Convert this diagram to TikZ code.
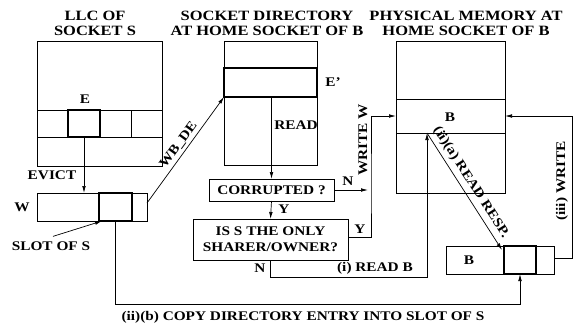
\documentclass[tikz,border=0pt]{standalone}
\usepackage{fontspec}
\newfontfamily\figfont[FakeStretch=1.16,Ligatures=TeX]{Liberation Serif}
\usepackage{tikz}
\usetikzlibrary{arrows.meta,positioning,calc}
\tikzset{
  lbl/.style={font=\figfont\bfseries\fontsize{13.2}{15}\selectfont,inner sep=1pt,align=center},
  headlbl/.style={lbl,font=\figfont\bfseries\fontsize{14.2}{15}\selectfont},
  plainbox/.style={draw,line width=0.8pt,inner sep=0pt,outer sep=0pt},
  hotbox/.style={draw,line width=2.3pt,inner sep=0pt,outer sep=0pt},
  askbox/.style={plainbox,line width=1pt,font=\figfont\bfseries\fontsize{13.2}{16}\selectfont,align=center},
  wire/.style={line width=0.8pt},
  link/.style={line width=0.7pt,-{Latex[length=7pt,width=3.6pt]}}
}

\begin{document}
\begin{tikzpicture}[x=1pt,y=-1pt]
\useasboundingbox (0,0) rectangle (573,325);
% titles
\node[headlbl] (llctitle) at (95,23) {LLC OF\\SOCKET S};
\node[headlbl] (dirtitle) at (267,23) {SOCKET DIRECTORY\\AT HOME SOCKET OF B};
\node[headlbl] (memtitle) at (466,23) {PHYSICAL MEMORY AT\\HOME SOCKET OF B};

% LLC of socket S
\node[plainbox,minimum width=125pt,minimum height=125pt] (llc) at (99.5,103.5) {};
\node[plainbox,minimum width=125pt,minimum height=27pt] (llcrow) at (99.5,123.5) {};
\draw[wire] (131,110) -- (131,137);
\node[hotbox,minimum width=32pt,minimum height=27pt] (ebox) at (84,123.5) {};
\node[lbl] (elbl) at (85,99) {E};

% socket directory
\node[plainbox,minimum width=93pt,minimum height=124pt] (dir) at (270.5,103) {};
\node[hotbox,minimum width=93pt,minimum height=29pt] (eprime) at (270.5,82.5) {};
\node[lbl] (eplbl) at (333,82) {E'};
\node[lbl] (readlbl) at (296,125) {READ};

% physical memory
\node[plainbox,minimum width=109pt,minimum height=152pt] (mem) at (450.5,117) {};
\node[plainbox,minimum width=109pt,minimum height=34pt] (memrow) at (450.5,116) {};
\node[lbl] (blbl) at (450,117) {B};

% victim set W
\node[plainbox,minimum width=110pt,minimum height=28pt] (wbar) at (92,207) {};
\node[hotbox,minimum width=33pt,minimum height=28pt] (wslot) at (115.5,207) {};
\node[lbl] (wlbl) at (22,207) {W};
\node[lbl] (evictlbl) at (52,175) {EVICT};
\node[lbl] (slotlbl) at (51,246) {SLOT OF S};

% set of B
\node[plainbox,minimum width=108pt,minimum height=28pt] (bbar) at (500,260) {};
\node[hotbox,minimum width=32pt,minimum height=28pt] (bslot) at (520,260) {};
\node[lbl] (bsetlbl) at (469,260) {B};

% decisions
\node[askbox,minimum width=125pt,minimum height=22pt] (corr) at (271.5,190) {CORRUPTED ?};
\node[askbox,minimum width=155pt,minimum height=41pt] (iss) at (270.5,239.5) {IS S THE ONLY\\SHARER/OWNER?};

\coordinate (wcol) at (371,190);
\coordinate (readrow) at (427,277);
\coordinate (memfoot) at (readrow |- memrow.south);

% connectors
\draw[link] (ebox.south) -- (ebox.south |- wbar.north);
\draw[link] ([xshift=2pt,yshift=4pt]slotlbl.north) -- ([xshift=3pt]wslot.south west);
\draw[link] ([yshift=4pt]wbar.east) -- node[lbl,sloped,above=2pt] (wbdelbl) {WB\_DE} (eprime.south west);
\draw[link] (eprime.south -| corr.north) -- (corr.north);
\draw[link] (corr.east) -- ([xshift=-3pt]wcol);
\draw[link] (corr.south) -- (iss.north);
\draw[link] ([yshift=2pt]iss.east) -| (wcol) |- (memrow.west);
\draw[link] (iss.south) |- (readrow) -- (memfoot);
\draw[link] (memfoot) -- node[lbl,sloped,above=3pt,pos=0.47] (resplbl) {(ii)(a) READ RESP.} ([xshift=-2pt,yshift=-4pt]bslot.north west);
\draw[link] (wslot.south) -- ++(0,83) -| (bslot.south);
\draw[link] ([yshift=2pt]bbar.east) -- ++(18,0) |- (memrow.east);

% connector labels
\node[lbl] (nlbl) at (348,181) {N};
\node[lbl] (ylbl) at (284,209) {Y};
\node[lbl] (y2lbl) at (360,229) {Y};
\node[lbl] (n2lbl) at (260,268) {N};
\node[lbl] (readblbl) at (375,268) {(i) READ B};
\node[lbl,rotate=90] (writewlbl) at (363,140) {WRITE W};
\node[lbl,rotate=90] (writelbl) at (562,181) {(iii) WRITE};
\node[lbl] (copylbl) at (303,317) {(ii)(b) COPY DIRECTORY ENTRY INTO SLOT OF S};
\end{tikzpicture}
\end{document}
